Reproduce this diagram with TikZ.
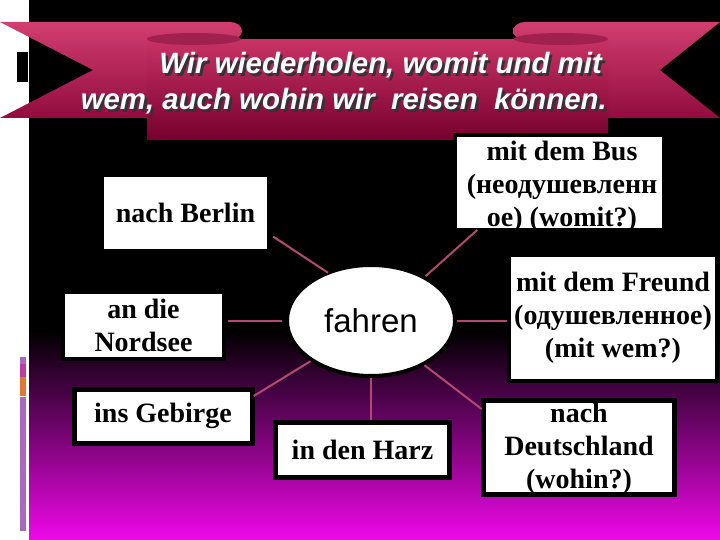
\documentclass[tikz,border=0pt]{standalone}
\usepackage{fontspec}
\setmainfont{Liberation Serif}
\newfontfamily\arialfont{Liberation Sans}
\usetikzlibrary{shapes.geometric,calc}
\definecolor{conncol}{RGB}{180,72,112}
\definecolor{magbot}{RGB}{238,8,232}
\definecolor{bantop}{RGB}{200,50,100}
\definecolor{banbot}{RGB}{118,0,45}
\definecolor{tailtop}{RGB}{210,62,112}
\definecolor{tailbot}{RGB}{145,12,62}
\definecolor{folddark}{RGB}{160,32,78}
\definecolor{barpurple}{RGB}{170,105,190}
\definecolor{barmag}{RGB}{190,60,160}
\definecolor{barorange}{RGB}{222,120,50}
\begin{document}
\begin{tikzpicture}[x=1pt,y=-1pt,
  box/.style={rectangle, fill=white, draw=black, line width=4pt, outer sep=0pt, inner sep=0pt,
    font=\bfseries\fontsize{28}{33}\selectfont, align=center, text=black},
  boxtext/.style={inner sep=0pt, outer sep=0pt, font=\bfseries\fontsize{28}{33}\selectfont, align=center, text=black},
  conn/.style={draw=conncol, line width=2pt},
  titlefont/.style={inner sep=0pt, font=\arialfont\bfseries\itshape\fontsize{29.4}{36}\selectfont}]
\useasboundingbox (0,0) rectangle (720,540);
% background
\fill[white] (0,0) rectangle (720,540);
\fill[black] (29,0) rectangle (720,331);
\shade[top color=black, bottom color=magbot] (29,330) rectangle (720,540);
% left strip decorations
\fill[black] (17,52) rectangle (28,82);
\fill[barpurple] (20,357) rectangle (26,364);
\fill[barmag] (20,364) rectangle (26,377);
\fill[barorange] (20,377) rectangle (26,396);
\fill[barpurple] (20,397) rectangle (26,531);
% banner tails
\shade[top color=tailtop, bottom color=tailbot]
  (0,22) -- (230,22) arc[start angle=-90, end angle=90, x radius=12, y radius=9]
  -- (160,40) -- (160,118) -- (0,118) -- (93,70) -- cycle;
\shade[top color=tailtop, bottom color=tailbot]
  (720,22) -- (525,22) arc[start angle=-90, end angle=-270, x radius=12, y radius=9]
  -- (600,40) -- (600,118) -- (720,118) -- (660,70) -- cycle;
% main panel
\shade[top color=bantop, bottom color=banbot] (147,40) rectangle (608,140);
\fill[folddark] (194,39) ellipse[x radius=47, y radius=6];
\fill[folddark] (561,39) ellipse[x radius=47, y radius=6];
% title
\node[titlefont, text=black!80, anchor=base east] (t1s) at (604.5,76.5) {Wir wiederholen, womit und mit};
\node[titlefont, text=white, anchor=base east] (t1) at (602,74) {Wir wiederholen, womit und mit};
\node[titlefont, text=black!80, anchor=base east] (t2s) at (609.5,112.5) {wem, auch wohin wir\ \ reisen\ \ können.};
\node[titlefont, text=white, anchor=base east] (t2) at (607,110) {wem, auch wohin wir\ \ reisen\ \ können.};
% boxes
\node[box, minimum width=167pt, minimum height=76pt] (berlin) at (185.5,213) {nach Berlin};
\node[box, minimum width=161pt, minimum height=66.5pt] (nordsee) at (143.5,325.5) {an die\\Nordsee};
\node[box, line width=5pt, minimum width=178pt, minimum height=54pt] (gebirge) at (163,416) {ins Gebirge};
\node[box, line width=5pt, minimum width=174pt, minimum height=55.5pt] (harz) at (362.5,450) {in den Harz};
\node[box, minimum width=208pt, minimum height=126pt] (freund) at (613,318) {mit dem Freund\\(одушевленное)\\(mit wem?)};
\node[box, minimum width=209pt, minimum height=95pt] (bus) at (559.5,182.5) {};
\begin{scope}
  \clip (bus.south west) rectangle (bus.north east);
  \node[boxtext] (bustext) at (562,187) {mit dem Bus\\(неодушевленн\\ое) (womit?)};
\end{scope}
\draw[line width=4pt] (bus.south west) rectangle (bus.north east);
\node[box, line width=5pt, minimum width=191.5pt, minimum height=94pt] (deut) at (579,447) {};
\begin{scope}
  \clip (deut.south west) rectangle (deut.north east);
  \node[boxtext] (deuttext) at (579,449) {nach\\Deutschland\\(wohin?)};
\end{scope}
\draw[line width=5pt] (deut.south west) rectangle (deut.north east);
% centre
\node[ellipse, fill=white, draw=black, line width=4pt, minimum width=168pt, minimum height=111pt,
  inner sep=0pt, outer sep=0pt, font=\arialfont\fontsize{33}{36}\selectfont] (fahren) at (371,320.5) {fahren};
% connectors
\draw[conn, shorten >=5pt] (fahren.132) -- (berlin.-14);
\draw[conn, shorten <=5pt, shorten >=4pt] (fahren.west) -- (fahren.west -| nordsee.east);
\draw[conn, shorten <=2pt] (fahren.39) -- (bus.210);
\draw[conn, shorten <=2pt, shorten >=2pt] (fahren.east) -- (fahren.east -| freund.west);
\draw[conn, shorten <=2pt, shorten >=2pt] (fahren.214) -- (gebirge.12);
\draw[conn, shorten <=2pt, shorten >=2pt] (fahren.south) -- (fahren.south |- harz.north);
\draw[conn, shorten <=2pt, shorten >=2pt] (fahren.-40) -- (deut.159);
\end{tikzpicture}
\end{document}
